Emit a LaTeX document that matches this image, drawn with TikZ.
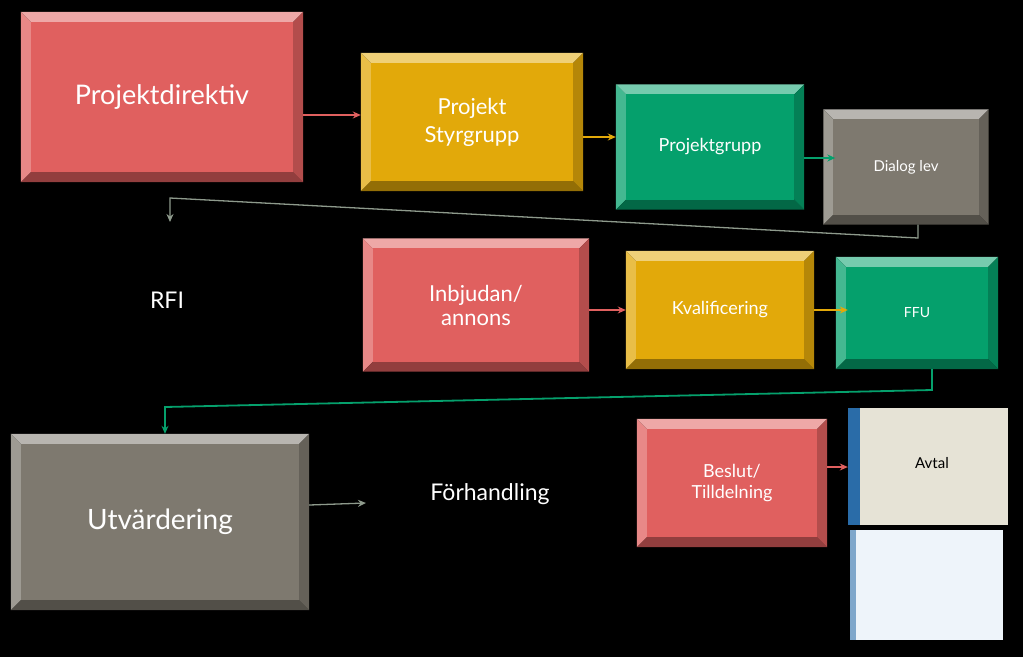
\documentclass[tikz,border=0pt]{standalone}
\usepackage{fontspec}
\setmainfont{Lato}
\usetikzlibrary{arrows.meta}
\definecolor{cred}{HTML}{E0605F}
\definecolor{cyel}{HTML}{E2A90A}
\definecolor{cgrn}{HTML}{05A06C}
\definecolor{cgry}{HTML}{7E796F}
\definecolor{cln}{HTML}{8E9A8C}
\definecolor{cavt}{HTML}{E6E3D6}
\definecolor{cblu}{HTML}{2A6CA8}
\definecolor{cwht}{HTML}{EEF4FA}
\tikzset{conn/.style={line width=1.3pt,-{Stealth[length=8pt,width=7pt]}},
 lbl/.style={text=white,align=center,font=#1},
 lbl/.default=\Large}
\newcommand\bevbox[8]{%
 \node[minimum width=#4, minimum height=#5, inner sep=0] (#1) at (#2,#3) {};
 \fill[#6!55!white] (#1.north west) -- (#1.north east) -- ([xshift=-10pt,yshift=-10pt]#1.north east) -- ([xshift=10pt,yshift=-10pt]#1.north west) -- cycle;
 \fill[#6!75!white] (#1.north west) -- (#1.south west) -- ([xshift=10pt,yshift=10pt]#1.south west) -- ([xshift=10pt,yshift=-10pt]#1.north west) -- cycle;
 \fill[#6!65!black] (#1.south west) -- (#1.south east) -- ([xshift=-10pt,yshift=10pt]#1.south east) -- ([xshift=10pt,yshift=10pt]#1.south west) -- cycle;
 \fill[#6!80!black] (#1.north east) -- (#1.south east) -- ([xshift=-10pt,yshift=10pt]#1.south east) -- ([xshift=-10pt,yshift=-10pt]#1.north east) -- cycle;
 \fill[#6] ([xshift=10pt,yshift=-10pt]#1.north west) rectangle ([xshift=-10pt,yshift=10pt]#1.south east);
 \node[lbl=#8] (#1-t) at (#1) {#7};
}
\begin{document}
\begin{tikzpicture}[x=1pt,y=-1pt]
\fill[black] (0,0) rectangle (1023,657);
\useasboundingbox (0,0) rectangle (1023,657);
\bevbox{pd}{162}{97}{282}{170}{cred}{Projektdirektiv}{\fontsize{27}{30}\selectfont}
\bevbox{sg}{472}{122}{222}{138}{cyel}{Projekt\\[4pt]Styrgrupp}{\fontsize{22}{24}\selectfont}
\bevbox{pg}{710}{147}{188}{125}{cgrn}{Projektgrupp}{\fontsize{18}{20}\selectfont}
\bevbox{dl}{906}{167}{165}{115}{cgry}{Dialog lev}{\fontsize{15}{17}\selectfont}
\bevbox{ib}{476}{305}{226}{133}{cred}{Inbjudan/\\annons}{\fontsize{22}{24}\selectfont}
\bevbox{kv}{720}{310}{188}{118}{cyel}{Kvalificering}{\fontsize{18}{20}\selectfont}
\bevbox{ff}{917}{313}{162}{112}{cgrn}{FFU}{\fontsize{14}{16}\selectfont}
\bevbox{ut}{160}{522}{298}{176}{cgry}{Utvärdering}{\fontsize{28}{30}\selectfont}
\bevbox{bt}{732}{483}{190}{128}{cred}{Beslut/\\Tilldelning}{\fontsize{18}{21}\selectfont}
% Avtal
\fill[cavt] (858,408) rectangle (1008,525);
\fill[cblu] (848,408) rectangle (860,525);
\node[font=\fontsize{15}{17}\selectfont] (av) at (932,463) {Avtal};
\node[minimum width=160, minimum height=117, inner sep=0] (avb) at (928,466) {};
% blank
\node[fill=cwht, minimum width=150, minimum height=110, inner sep=0] (bl) at (928,585) {};
\fill[cblu!60] (850,530) rectangle (856,640);
\node[lbl=\fontsize{23}{25}\selectfont] (rfi) at (167,300) {RFI};
\node[lbl=\fontsize{23}{25}\selectfont] (fh) at (490,494) {Förhandling};
\coordinate (fhin) at (366,503);
% connectors
\draw[conn,cred] (pd.east |- 0,115) -- (sg.west |- 0,115);
\draw[conn,cyel] (sg.east |- 0,137) -- (pg.west |- 0,137);
\draw[conn,cgrn] (pg.east |- 0,158) -- ([xshift=12pt]dl.west |- 0,158);
\coordinate (c1) at (918,238);
\coordinate (c2) at (170,198);
\draw[conn,cln] (dl.south -| 918,0) -- (c1) -- (c2) -- (170,222);
\draw[conn,cred] (ib.east |- 0,310) -- (kv.west |- 0,310);
\draw[conn,cyel] (kv.east |- 0,310) -- ([xshift=12pt]ff.west |- 0,310);
\coordinate (c3) at (932,390);
\coordinate (c4) at (165,407);
\draw[conn,cgrn,line width=1.8pt] (ff.south -| 932,0) -- (c3) -- (c4) -- (ut.north -| 165,0);
\draw[conn,cln] (ut.east |- 0,505) -- (fhin);
\draw[conn,cred] (bt.east |- 0,467) -- (avb.west |- 0,467);
\end{tikzpicture}
\end{document}
